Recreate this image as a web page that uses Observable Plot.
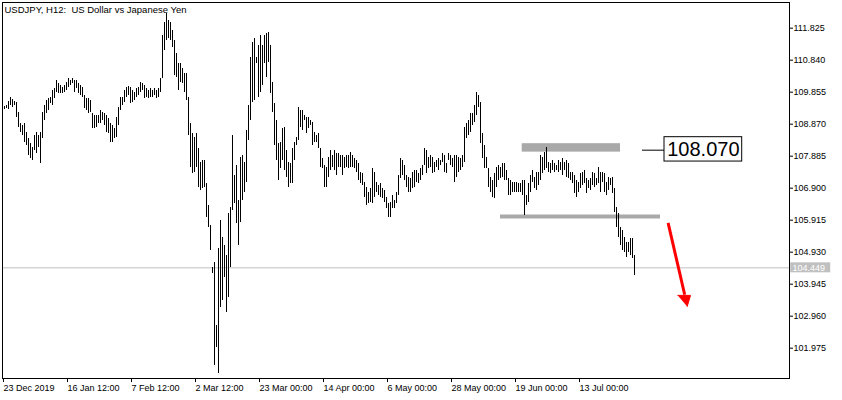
<!DOCTYPE html>
<html><head><meta charset="utf-8">
<script src="https://cdn.jsdelivr.net/npm/d3@7"></script>
<script src="https://cdn.jsdelivr.net/npm/@observablehq/plot@0.6"></script>
<style>
html,body{margin:0;padding:0;background:#fff;}
#chart{width:842px;height:400px;}
</style></head><body><div id="chart"></div>
<script>
// H12 bar highs / lows, 23 Dec 2019 -> late Jul 2020 (one value per bar)
const highs = [
109.42,109.45,109.57,109.69,109.63,109.57,109.54,109.23,108.89,108.83,
108.89,108.62,108.43,108.28,108.15,108.52,108.62,108.52,108.62,109.23,
109.45,109.60,109.66,109.69,109.91,109.97,110.22,110.12,110.06,110.00,
110.06,110.15,110.28,110.22,110.28,110.22,110.22,110.12,110.06,110.00,
109.75,109.66,109.66,109.60,109.20,109.14,109.14,109.14,109.29,109.23,
109.20,109.14,109.05,108.89,108.83,108.74,109.08,109.38,109.69,109.69,
109.91,110.00,110.03,
110.00,109.91,109.85,109.97,110.00,110.15,110.12,110.06,109.97,109.91,
109.97,109.91,109.97,109.91,109.97,110.28,111.60,112.00,112.28,112.06,
112.00,111.75,111.45,111.05,110.74,110.74,110.58,110.43,110.43,109.69,
108.89,108.58,108.46,108.58,108.12,107.69,107.75,107.75,107.05,106.37,
105.75,104.46,104.61,102.67,105.05,105.91,105.38,105.14,104.83,106.12,
106.31,108.52,107.29,107.60,106.52,107.85,107.91,107.69,108.68,109.45,
110.92,111.39,111.51,110.92,111.29,
111.60,111.29,111.60,111.66,111.69,111.29,110.15,109.51,108.98,108.28,
108.31,108.74,108.77,108.06,107.69,107.66,108.12,108.31,108.46,109.38,
109.29,109.29,109.14,109.08,109.08,108.98,108.92,108.62,108.52,108.58,
108.12,107.81,107.60,107.54,107.85,108.06,107.91,108.06,107.97,107.97,
107.91,107.91,107.85,107.91,107.91,108.00,107.91,107.81,107.75,107.66,
107.38,107.35,107.08,106.92,106.77,106.89,107.51,107.38,107.08,106.98,
107.05,106.89,106.83,106.61,106.43,
106.46,106.68,106.52,106.77,107.29,107.81,107.75,107.60,107.29,107.23,
107.20,107.38,107.45,107.45,107.35,107.51,107.60,108.12,108.06,107.85,
107.91,107.85,107.69,107.75,107.81,107.75,107.97,107.91,107.66,107.97,
107.91,107.81,107.91,107.91,107.85,107.81,107.91,108.77,108.89,108.98,
109.20,109.20,109.45,109.85,109.75,109.54,108.58,108.22,107.85,107.51,
107.23,107.14,107.35,107.54,107.60,107.54,107.66,107.66,107.45,107.20,
107.14,107.08,107.08,107.08,107.05,
107.05,107.14,107.14,106.68,107.05,107.29,107.45,107.23,107.38,107.38,
107.91,107.85,108.00,108.15,107.69,107.66,107.75,107.66,107.60,107.75,
107.69,107.81,107.69,107.75,107.66,107.38,107.38,107.29,107.14,107.08,
107.35,107.38,107.45,107.20,107.14,107.20,107.38,107.35,107.20,107.54,
107.38,107.38,107.35,107.08,107.23,107.20,107.23,106.89,106.31,106.12,
105.69,105.60,105.38,105.23,105.23,105.35,105.35,104.83
];
const lows = [
109.32,109.35,109.32,109.45,109.38,109.45,109.08,108.77,108.62,108.52,
108.31,108.22,107.91,107.81,107.75,108.06,107.97,108.15,107.66,108.43,
108.98,109.20,109.29,109.51,109.45,109.66,109.85,109.82,109.82,109.82,
109.85,109.91,110.00,110.06,110.12,109.85,109.97,109.82,109.75,109.69,
109.35,109.29,109.20,109.23,108.74,108.74,108.77,108.89,108.89,108.98,
108.83,108.62,108.58,108.31,108.31,108.43,108.46,108.83,109.29,109.45,
109.54,109.69,109.75,
109.51,109.54,109.60,109.69,109.75,109.85,109.91,109.66,109.69,109.66,
109.69,109.69,109.75,109.66,109.69,109.85,110.28,111.14,111.45,111.51,
111.45,111.23,110.37,110.31,109.91,110.15,110.12,109.85,109.60,108.52,
107.54,107.35,107.38,107.54,106.92,106.83,106.89,106.92,106.00,105.69,
104.98,104.28,101.44,101.99,101.20,103.23,103.44,104.15,103.08,103.54,
104.46,106.21,106.43,105.81,105.14,105.85,106.52,106.77,107.08,108.37,
108.98,109.54,109.60,110.74,109.69,
109.85,110.06,110.74,110.31,110.77,109.82,109.23,108.22,107.75,107.14,
107.51,107.75,107.45,107.23,106.92,107.05,107.05,107.75,108.22,108.37,
108.77,108.68,108.98,108.58,108.74,108.83,108.22,108.31,108.31,108.12,
107.54,107.51,106.92,106.92,107.23,107.45,107.54,107.45,107.29,107.54,
107.54,107.29,107.51,107.54,107.51,107.54,107.54,107.51,107.38,107.14,
107.05,106.98,106.61,106.37,106.43,106.46,106.43,106.61,106.77,106.68,
106.61,106.58,106.46,106.28,106.00,
106.00,106.28,106.28,106.43,106.68,107.20,107.29,107.14,106.92,106.77,
106.77,106.89,106.92,107.08,107.05,107.14,107.29,107.60,107.35,107.51,
107.54,107.35,107.38,107.54,107.45,107.60,107.69,107.38,107.35,107.75,
107.60,107.54,107.08,107.23,107.38,107.45,107.54,107.69,108.43,108.52,
108.62,108.83,108.92,109.14,109.38,108.28,107.81,107.51,107.51,106.92,
106.77,106.61,106.58,106.92,107.14,107.20,107.23,107.14,107.14,106.68,
106.68,106.77,106.77,106.77,106.77,
106.77,106.68,106.06,106.37,106.46,106.77,107.08,106.89,106.83,106.98,
107.14,107.35,107.45,107.51,107.38,107.35,107.45,107.38,107.45,107.38,
107.45,107.29,107.45,107.23,107.20,107.14,107.05,106.74,106.61,106.77,
106.89,106.98,107.05,106.74,106.89,106.83,106.98,106.92,106.98,107.05,
106.77,107.08,106.77,106.68,106.83,106.98,106.74,106.15,105.69,105.38,
105.14,104.98,104.92,104.77,104.92,104.83,104.74,104.21
];

const chartTitle = "USDJPY, H12:  US Dollar vs Japanese Yen";
const xTickIndex = [-1, 31, 63, 95, 127, 159, 191, 223, 255, 287];
const xTickLabels = ["23 Dec 2019", "16 Jan 12:00", "7 Feb 12:00", "2 Mar 12:00", "23 Mar 00:00",
  "14 Apr 00:00", "6 May 00:00", "28 May 00:00", "19 Jun 00:00", "13 Jul 00:00"];
const yTicks = [111.825, 110.840, 109.855, 108.870, 107.885, 106.900, 105.915, 104.930, 103.945, 102.960, 101.975];
const lastPrice = 104.449;

// drawn objects (bar index / price)
const resistanceZone = [{x1: 258.85, x2: 308, y1: 108.01, y2: 108.27}];
const supportLine = [{x1: 248, x2: 328, y: 106.03}];
const callout = [{label: "108.070", price: 108.07, lineStart: 319, boxStart: 330, boxEnd: 368.85, boxLow: 107.72, boxHigh: 108.47}];
const arrowShaft = [{x: 331.8, y: 105.83}, {x: 340.1, y: 103.62}];
const arrowHead = [{x: 336.65, y: 103.60}, {x: 343.0, y: 103.60}, {x: 341.35, y: 103.26}];

if (highs.length !== lows.length) throw new Error("length mismatch " + highs.length + " vs " + lows.length);
highs.forEach((h, i) => { if (h < lows[i]) throw new Error("high<low at " + i); });

const bars = highs.map((h, i) => ({i, high: h, low: lows[i]}));
const xDomain = [-1, 392.5];
const yDomain = [101.042, 112.616];
const tickLabel = new Map(xTickIndex.map((d, k) => [d, xTickLabels[k]]));

const plot = Plot.plot({
  width: 842, height: 400,
  marginLeft: 2, marginRight: 53, marginTop: 2, marginBottom: 22,
  x: {domain: xDomain},
  y: {domain: yDomain},
  style: {fontFamily: "'Liberation Sans', Arial, sans-serif", fontSize: "9px", background: "#fff", color: "#000", overflow: "visible"},
  marks: [
    Plot.ruleY([lastPrice], {y: d => d, stroke: "#c0c0c0", strokeWidth: 1}),
    Plot.rect(resistanceZone, {x1: "x1", x2: "x2", y1: "y1", y2: "y2", fill: "#a9a9a9"}),
    Plot.ruleY(supportLine, {y: "y", x1: "x1", x2: "x2", stroke: "#a9a9a9", strokeWidth: 4}),
    Plot.ruleX(bars, {x: "i", y1: "low", y2: "high", stroke: "#000", strokeWidth: 1, shapeRendering: "crispEdges"}),
    Plot.ruleY(callout, {y: "price", x1: "lineStart", x2: "boxStart", stroke: "#000"}),
    Plot.rect(callout, {x1: "boxStart", x2: "boxEnd", y1: "boxLow", y2: "boxHigh", fill: "#fff", stroke: "#000"}),
    Plot.text(callout, {x: d => (d.boxStart + d.boxEnd) / 2, y: d => (d.boxLow + d.boxHigh) / 2, text: "label", fontSize: 20, fill: "#000"}),
    Plot.line(arrowShaft, {x: "x", y: "y", stroke: "#ff0000", strokeWidth: 3, strokeLinecap: "butt"}),
    Plot.line(arrowHead, {x: "x", y: "y", fill: "#ff0000", stroke: "#ff0000", strokeWidth: 1}),
    Plot.frame({stroke: "#000"}),
    Plot.axisX({ticks: xTickIndex, tickFormat: d => tickLabel.get(d), tickSize: 4, tickPadding: 2, textAnchor: "start", dx: 1}),
    Plot.axisY({anchor: "right", ticks: yTicks, tickFormat: d => d.toFixed(3), tickSize: 3, tickPadding: 1}),
    Plot.rect([lastPrice], {x1: xDomain[1] + 0.6, x2: xDomain[1] + 20.6, y1: d => d - 0.154, y2: d => d + 0.154, fill: "#c0c0c0"}),
    Plot.text([lastPrice], {x: xDomain[1] + 1.5, y: d => d, text: d => d.toFixed(3), textAnchor: "start", fill: "#fff"}),
    Plot.text([chartTitle], {frameAnchor: "top-left", dx: 2, dy: 4, lineAnchor: "top", textAnchor: "start", fontSize: 9.5, text: d => d})
  ]
});
document.getElementById("chart").appendChild(plot);
</script>
</body></html>
